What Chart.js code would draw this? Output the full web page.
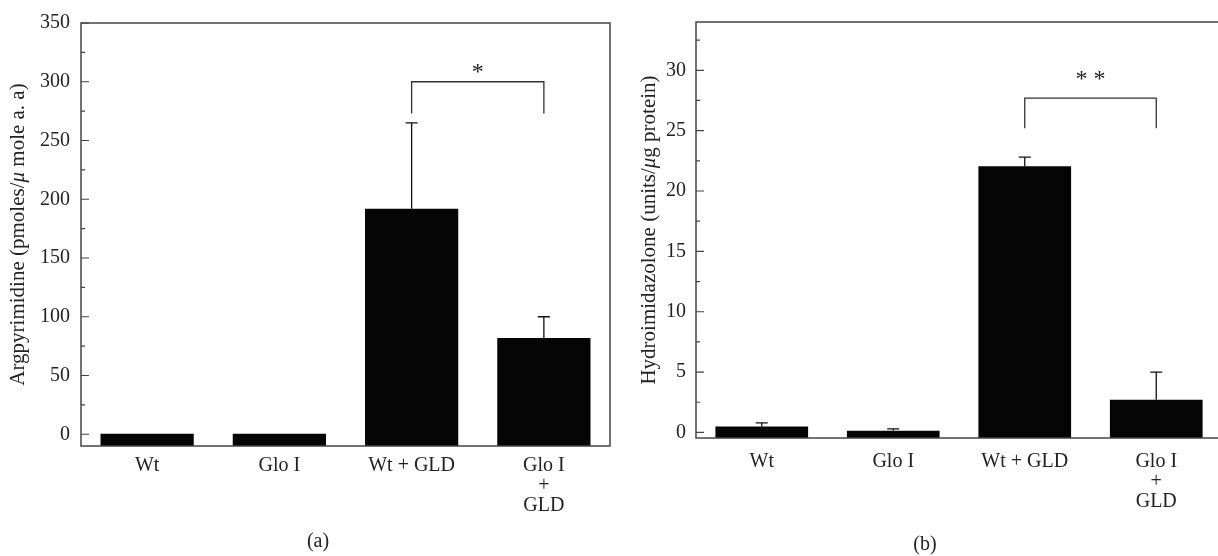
<!DOCTYPE html>
<html>
<head>
<meta charset="utf-8">
<script src="https://cdn.jsdelivr.net/npm/chart.js@4/dist/chart.umd.min.js"></script>
<style>
  html, body { margin: 0; padding: 0; background: #fff; overflow: hidden; width: 1218px; height: 556px; }
  .panel { position: absolute; top: 0; }
  .cap { position: absolute; font-family: "Liberation Serif", serif; font-size: 20px; color: #222; transform: translate(-50%, -50%); }
</style>
</head>
<body>
<div class="panel" style="left:0px"><canvas id="grafA" width="620" height="556"></canvas></div>
<div class="panel" style="left:620px"><canvas id="grafB" width="610" height="556"></canvas></div>
<div class="cap" style="left:318px; top:540px">(a)</div>
<div class="cap" style="left:925px; top:543px">(b)</div>
<script>
// dados
const categorias = ["Wt", "Glo I", "Wt + GLD", ["Glo I", "+", "GLD"]];

const argpirimidina = [0.5, 0.5, 192, 82];
const argpirimidinaErro = [0, 0, 73, 18];
const ticksA = [0, 50, 100, 150, 200, 250, 300, 350];
const ticksMenoresA = [25, 75, 125, 175, 225, 275, 325];
const chaveA = [300, 273];   // topo da chave, fim das pernas
const estrelaA = 312;

const hidroimidazolona = [0.5, 0.15, 22.05, 2.7];
const hidroimidazolonaErro = [0.3, 0.15, 0.75, 2.3];
const ticksB = [0, 5, 10, 15, 20, 25, 30];
const ticksMenoresB = [2.5, 7.5, 12.5, 17.5, 22.5, 27.5, 32.5];
const chaveB = [27.7, 25.2];
const estrelaB = 29.6;

const fonte = "'Liberation Serif', 'Times New Roman', serif";
const corTexto = "#222";
const corEixo = "#444";

// plugin que desenha moldura, ticks para dentro, barras de erro, chave e titulo do eixo
const decoracao = {
  id: "decoracao",
  afterDatasetsDraw(chart, args, opts) {
    const ctx = chart.ctx;
    const area = chart.chartArea;
    const x = chart.scales.x;
    const y = chart.scales.y;
    const meta = chart.getDatasetMeta(0);

    ctx.save();
    // barras de erro
    ctx.strokeStyle = "#111";
    ctx.lineWidth = 1.3;
    meta.data.forEach((bar, i) => {
      const e = opts.erros[i];
      if (!e) return;
      const yTopo = y.getPixelForValue(opts.valores[i] + e);
      ctx.beginPath();
      ctx.moveTo(bar.x, y.getPixelForValue(opts.valores[i]));
      ctx.lineTo(bar.x, yTopo);
      ctx.moveTo(bar.x - 6, yTopo);
      ctx.lineTo(bar.x + 6, yTopo);
      ctx.stroke();
    });

    // chave de significancia
    const x1 = x.getPixelForValue(2);
    const x2 = x.getPixelForValue(3);
    const yc = y.getPixelForValue(opts.chave[0]);
    const yp = y.getPixelForValue(opts.chave[1]);
    ctx.strokeStyle = "#333";
    ctx.lineWidth = 1.3;
    ctx.beginPath();
    ctx.moveTo(x1, yp);
    ctx.lineTo(x1, yc);
    ctx.lineTo(x2, yc);
    ctx.lineTo(x2, yp);
    ctx.stroke();
    ctx.fillStyle = corTexto;
    ctx.font = "24px " + fonte;
    ctx.textAlign = "center";
    ctx.textBaseline = "middle";
    ctx.fillText(opts.estrela, (x1 + x2) / 2, y.getPixelForValue(opts.estrelaY) + 5);

    // moldura
    ctx.strokeStyle = corEixo;
    ctx.lineWidth = 1.5;
    ctx.strokeRect(area.left, area.top, area.right - area.left, area.bottom - area.top);

    // ticks para dentro
    ctx.lineWidth = 1.2;
    ctx.beginPath();
    opts.ticks.forEach(v => {
      const py = y.getPixelForValue(v);
      ctx.moveTo(area.left, py);
      ctx.lineTo(area.left + 8, py);
    });
    opts.menores.forEach(v => {
      const py = y.getPixelForValue(v);
      ctx.moveTo(area.left, py);
      ctx.lineTo(area.left + 4, py);
    });
    ctx.stroke();

    // titulo do eixo y (com mu em italico)
    const partes = opts.titulo;
    let total = 0;
    partes.forEach(p => {
      ctx.font = (p[1] ? "italic " : "") + "21px " + fonte;
      total += ctx.measureText(p[0]).width;
    });
    ctx.translate(opts.tituloX, (area.top + area.bottom) / 2);
    ctx.rotate(-Math.PI / 2);
    ctx.textAlign = "left";
    ctx.textBaseline = "middle";
    let pos = -total / 2;
    partes.forEach(p => {
      ctx.font = (p[1] ? "italic " : "") + "21px " + fonte;
      ctx.fillText(p[0], pos, 0);
      pos += ctx.measureText(p[0]).width;
    });
    ctx.restore();
  },
};

function criarGrafico(id, cfg) {
  new Chart(document.getElementById(id), {
    type: "bar",
    data: {
      labels: categorias,
      datasets: [
        {
          data: cfg.valores,
          backgroundColor: "#050505",
          base: cfg.min,
          barPercentage: 0.705,
          categoryPercentage: 1,
        },
      ],
    },
    options: {
      responsive: false,
      animation: false,
      layout: { padding: cfg.padding },
      plugins: {
        legend: { display: false },
        tooltip: { enabled: false },
        decoracao: cfg,
      },
      scales: {
        x: {
          grid: { display: false, drawTicks: false },
          border: { display: false },
          ticks: {
            color: corTexto,
            font: { family: fonte, size: 20, lineHeight: 1.0 },
            padding: cfg.padX,
            maxRotation: 0,
            autoSkip: false,
          },
          afterFit: (s) => { s.height = cfg.alturaX; },
        },
        y: {
          min: cfg.min,
          max: cfg.max,
          grid: { display: false, drawTicks: false },
          border: { display: false },
          ticks: {
            color: corTexto,
            font: { family: fonte, size: 20 },
            padding: cfg.padY,
          },
          afterBuildTicks: (s) => { s.ticks = cfg.ticks.map(v => ({ value: v })); },
          afterFit: (s) => { s.width = cfg.larguraY; },
        },
      },
    },
    plugins: [decoracao],
  });
}

// GRAFICO (a)
criarGrafico("grafA", {
  valores: argpirimidina,
  erros: argpirimidinaErro,
  ticks: ticksA,
  menores: ticksMenoresA,
  chave: chaveA,
  estrela: "*",
  estrelaY: estrelaA,
  min: -10,
  max: 350,
  padding: { top: 19, right: 10, left: 0, bottom: 0 },
  larguraY: 81,
  alturaX: 110,
  padX: 10,
  padY: 11,
  tituloX: 18,
  titulo: [["Argpyrimidine (pmoles/", false], ["\u03bc", true], [" mole a. a)", false]],
});

// GRAFICO (b)
criarGrafico("grafB", {
  valores: hidroimidazolona,
  erros: hidroimidazolonaErro,
  ticks: ticksB,
  menores: ticksMenoresB,
  chave: chaveB,
  estrela: "* *",
  estrelaY: estrelaB,
  min: -0.46,
  max: 34,
  padding: { top: 14, right: 8, left: 0, bottom: 0 },
  larguraY: 76,
  alturaX: 118,
  padX: 14,
  padY: 10,
  tituloX: 29,
  titulo: [["Hydroimidazolone (units/", false], ["\u03bc", true], ["g protein)", false]],
});
</script>
</body>
</html>
